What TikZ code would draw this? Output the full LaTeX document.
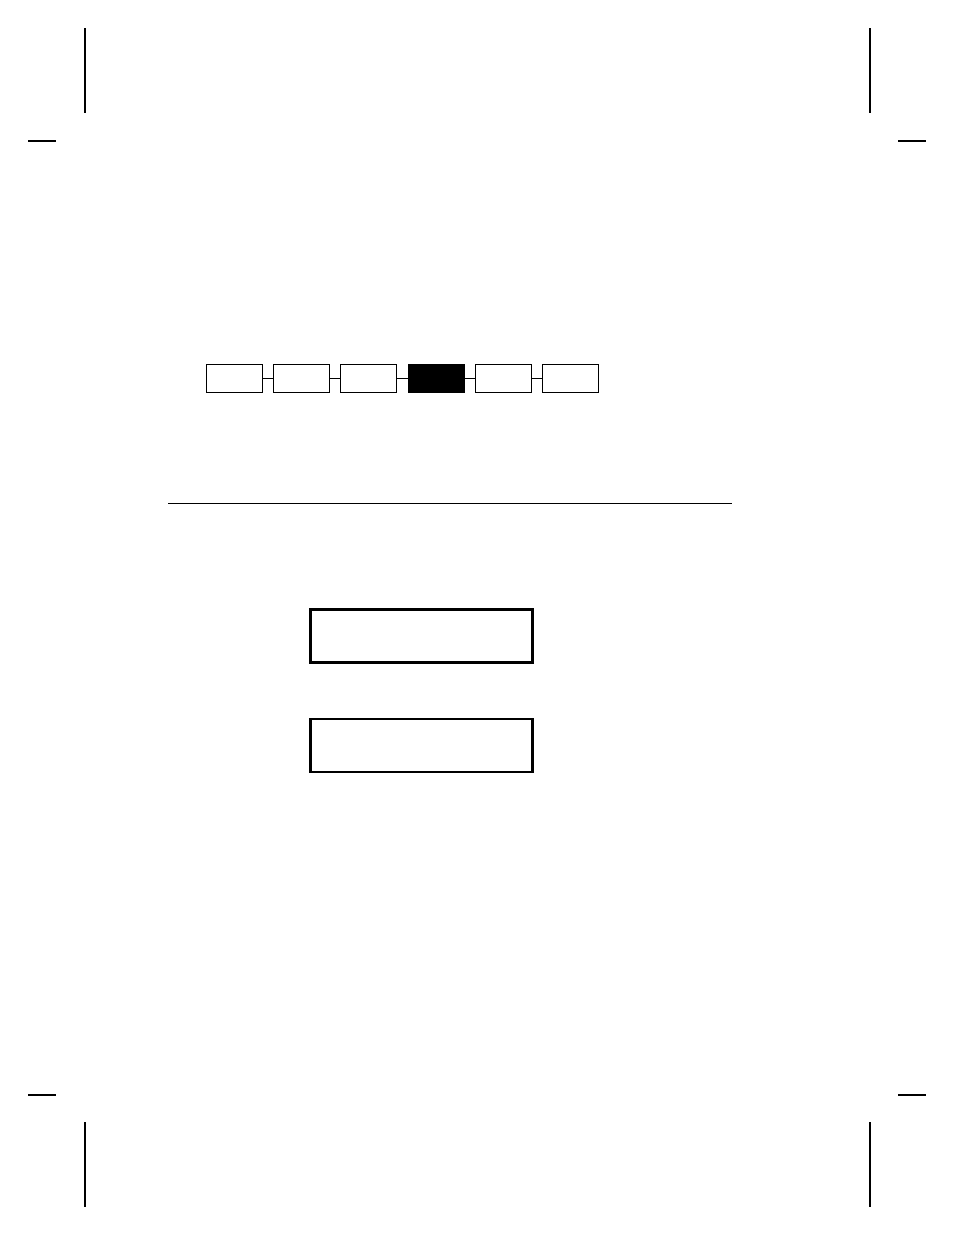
\documentclass[tikz,border=0pt]{standalone}
\begin{document}
\begin{tikzpicture}[x=1pt,y=-1pt,
  chainbox/.style={draw,line width=1.2pt,minimum width=56pt,minimum height=28pt,inner sep=0pt,outer sep=0pt},
  bigbox/.style={draw,line width=2.1pt,minimum width=222pt,minimum height=53pt,inner sep=0pt,outer sep=0pt},
  crop/.style={line width=1.7pt},
  link/.style={line width=0.9pt}]
\useasboundingbox (0,0) rectangle (954,1235);
% crop marks
\draw[crop] (85,28) -- (85,113);
\draw[crop] (28,141) -- (56,141);
\draw[crop] (870,28) -- (870,113);
\draw[crop] (898,141) -- (926,141);
\draw[crop] (28,1095) -- (56,1095);
\draw[crop] (85,1122) -- (85,1207);
\draw[crop] (898,1095) -- (926,1095);
\draw[crop] (870,1122) -- (870,1207);
% chain
\foreach \i/\n in {0/c1,1/c2,2/c3,4/c5,5/c6}{
  \node[chainbox] (\n) at (234.2+67.3*\i,378.5) {};
}
\node[chainbox,fill=black] (c4) at (234.2+67.3*3,378.5) {};
\draw[link] (c1.east) -- (c2.west);
\draw[link] (c2.east) -- (c3.west);
\draw[link] (c3.east) -- (c4.west);
\draw[link] (c4.east) -- (c5.west);
\draw[link] (c5.east) -- (c6.west);
% rule
\coordinate (rl) at (168,503);
\coordinate (rr) at (732,503);
\draw[line width=0.9pt] (rl) -- (rr);
% big boxes
\node[bigbox] (ba) at (421.5,636) {};
\node[bigbox] (bb) at (421.5,745.5) {};
\end{tikzpicture}
\end{document}
